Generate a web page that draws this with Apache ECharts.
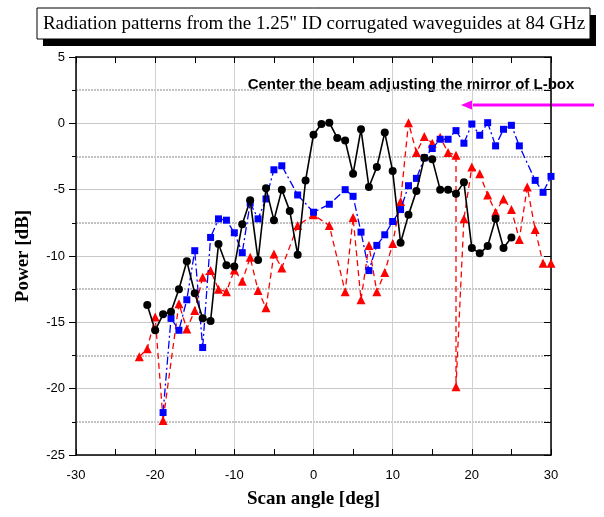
<!DOCTYPE html>
<html>
<head>
<meta charset="utf-8">
<script src="https://cdn.jsdelivr.net/npm/echarts@6/dist/echarts.min.js"></script>
<style>
html,body{margin:0;padding:0;background:#fff;}
#c{width:604px;height:517px;}
</style>
</head>
<body>
<div id="c"></div>
<script>
// ---- data ----
var titleText = 'Radiation patterns from the 1.25" ID corrugated waveguides at 84 GHz';
var noteText = 'Center the beam adjusting the mirror of L-box';
var xName = 'Scan angle [deg]';
var yName = 'Power [dB]';

var blackX = [-21,-20,-19,-18,-17,-16,-15,-14,-13,-12,-11,-10,-9,-8,-7,-6,-5,-4,-3,-2,-1,0,1,2,3,4,5,6,7,8,9,10,11,12,13,14,15,16,17,18,19,20,21,22,23,24,25];
var blackY = [-13.7,-15.6,-14.4,-14.2,-12.5,-10.4,-12.8,-14.7,-14.9,-9.1,-10.7,-10.8,-7.6,-5.8,-10.3,-4.9,-7.3,-5.0,-6.6,-9.9,-4.3,-0.86,-0.05,0.05,-1.1,-1.3,-3.8,-0.45,-4.8,-3.3,-0.7,-3.6,-9.0,-6.9,-5.1,-2.6,-2.7,-5.0,-5.0,-5.3,-4.45,-9.4,-9.8,-9.25,-7.2,-9.4,-8.6];

var blueX = [-19,-18,-17,-16,-15,-14,-13,-12,-11,-10,-9,-8,-7,-6,-5,-4,-2,0,2,4,5,6,7,8,9,10,11,12,13,14,15,16,17,18,19,20,21,22,23,24,25,26,28,29,30];
var blueY = [-21.8,-14.7,-15.6,-13.3,-9.6,-16.9,-8.6,-7.2,-7.3,-8.25,-9.75,-6.0,-7.2,-5.7,-3.5,-3.2,-5.4,-6.7,-6.1,-5.0,-5.5,-8.2,-11.1,-9.2,-8.4,-7.4,-6.5,-4.7,-4.15,-2.6,-1.9,-1.2,-1.2,-0.55,-1.5,-0.05,-0.9,0.05,-1.7,-0.45,-0.15,-1.7,-4.3,-5.2,-4.0];

var redX = [-22,-21,-20,-19,-17,-16,-15,-14,-13,-12,-11,-10,-9,-8,-7,-6,-5,-4,-2,0,2,4,5,6,7,8,9,10,11,12,13,14,15,16,17,18,18,19,20,21,22,23,24,25,26,27,28,29,30];
var redY = [-17.6,-17.0,-14.6,-22.4,-13.6,-15.5,-14.1,-11.6,-11.1,-12.5,-12.7,-11.05,-11.9,-10.1,-12.6,-13.9,-9.85,-10.9,-7.7,-6.9,-7.7,-12.7,-7.1,-13.3,-9.2,-12.7,-11.25,-9.05,-5.9,0.05,-2.2,-1.0,-1.5,-1.05,-2.2,-2.4,-19.85,-7.2,-3.3,-3.8,-5.4,-6.7,-5.7,-6.5,-8.75,-4.8,-8.0,-10.55,-10.55];

function zip(xs, ys){ return xs.map(function(x,i){ return [x, ys[i]]; }); }

var chart = echarts.init(document.getElementById('c'));
var labelFont = {color:'#000', fontFamily:'Liberation Sans, Arial', fontSize:13};
var option = {
  animation:false,
  grid:{left:76, right:53, top:57, bottom:62, containLabel:false},
  xAxis:[
    {type:'value', min:-30, max:30, interval:10, position:'bottom',
     name:xName, nameLocation:'middle', nameGap:35,
     nameTextStyle:{fontFamily:'Liberation Serif, Times New Roman', fontWeight:'bold', fontSize:19, color:'#000'},
     axisLine:{show:true, onZero:false, lineStyle:{color:'#000', width:1.5}},
     axisTick:{show:true, inside:true, length:6, lineStyle:{color:'#000', width:1}},
     minorTick:{show:true, splitNumber:2, length:6, lineStyle:{color:'#000', width:1}},
     splitLine:{show:true, lineStyle:{color:'#d0d0d0', width:1}},
     axisLabel:Object.assign({margin:14}, labelFont)},
    {type:'value', min:-30, max:30, interval:10, position:'top',
     axisLine:{show:true, onZero:false, lineStyle:{color:'#000', width:1.5}},
     axisTick:{show:true, inside:true, length:6, lineStyle:{color:'#000', width:1}},
     minorTick:{show:true, splitNumber:2, length:6, lineStyle:{color:'#000', width:1}},
     splitLine:{show:false}, axisLabel:{show:false}}
  ],
  yAxis:[
    {type:'value', min:-25, max:5, interval:5, position:'left',
     name:yName, nameLocation:'middle', nameGap:43, nameRotate:90,
     nameTextStyle:{fontFamily:'Liberation Serif, Times New Roman', fontWeight:'bold', fontSize:19, color:'#000'},
     axisLine:{show:true, onZero:false, lineStyle:{color:'#000', width:1.5}},
     axisTick:{show:true, inside:false, length:7, lineStyle:{color:'#000', width:1}},
     minorTick:{show:true, splitNumber:2, length:4, lineStyle:{color:'#000', width:1}},
     splitLine:{show:true, lineStyle:{color:'#c8c8c8', width:1}},
     minorSplitLine:{show:true, lineStyle:{color:'#b0b0b0', width:1.5, type:[2,1]}},
     axisLabel:Object.assign({margin:11}, labelFont)},
    {type:'value', min:-25, max:5, interval:5, position:'right',
     axisLine:{show:true, onZero:false, lineStyle:{color:'#000', width:1.5}},
     axisTick:{show:true, inside:true, length:7, lineStyle:{color:'#000', width:1}},
     minorTick:{show:true, splitNumber:2, length:7, lineStyle:{color:'#000', width:1}},
     splitLine:{show:false}, axisLabel:{show:false}}
  ],
  series:[
    {type:'line', data:zip(redX, redY), symbol:'triangle', symbolSize:9,
     itemStyle:{color:'#ff0000'}, lineStyle:{color:'#ff0000', width:1.3, type:[6,4]}, z:3},
    {type:'line', data:zip(blueX, blueY), symbol:'rect', symbolSize:7,
     itemStyle:{color:'#0000ff'}, lineStyle:{color:'#0000ff', width:1.3, type:[8,3,2,3]}, z:4},
    {type:'line', data:zip(blackX, blackY), symbol:'circle', symbolSize:8,
     itemStyle:{color:'#000'}, lineStyle:{color:'#000', width:1.6}, z:5}
  ],
  graphic:[
    {type:'rect', shape:{x:43, y:15, width:553, height:31}, style:{fill:'#000'}},
    {type:'rect', shape:{x:37, y:8, width:553, height:31}, style:{fill:'#fff', stroke:'#000', lineWidth:1}},
    {type:'text', x:314, y:24, style:{text:titleText, fill:'#000', font:'19px "Liberation Serif", "Times New Roman", serif', align:'center', verticalAlign:'middle'}},
    {type:'text', x:411, y:85, style:{text:noteText, fill:'#000', font:'bold 15px "Liberation Sans", Arial, sans-serif', align:'center', verticalAlign:'middle'}},
    {type:'line', shape:{x1:594, y1:105, x2:470, y2:105}, style:{stroke:'#ff00ff', lineWidth:3}},
    {type:'polygon', shape:{points:[[461,105],[473,100],[473,110]]}, style:{fill:'#ff00ff'}}
  ]
};
chart.setOption(option);
</script>
</body>
</html>
